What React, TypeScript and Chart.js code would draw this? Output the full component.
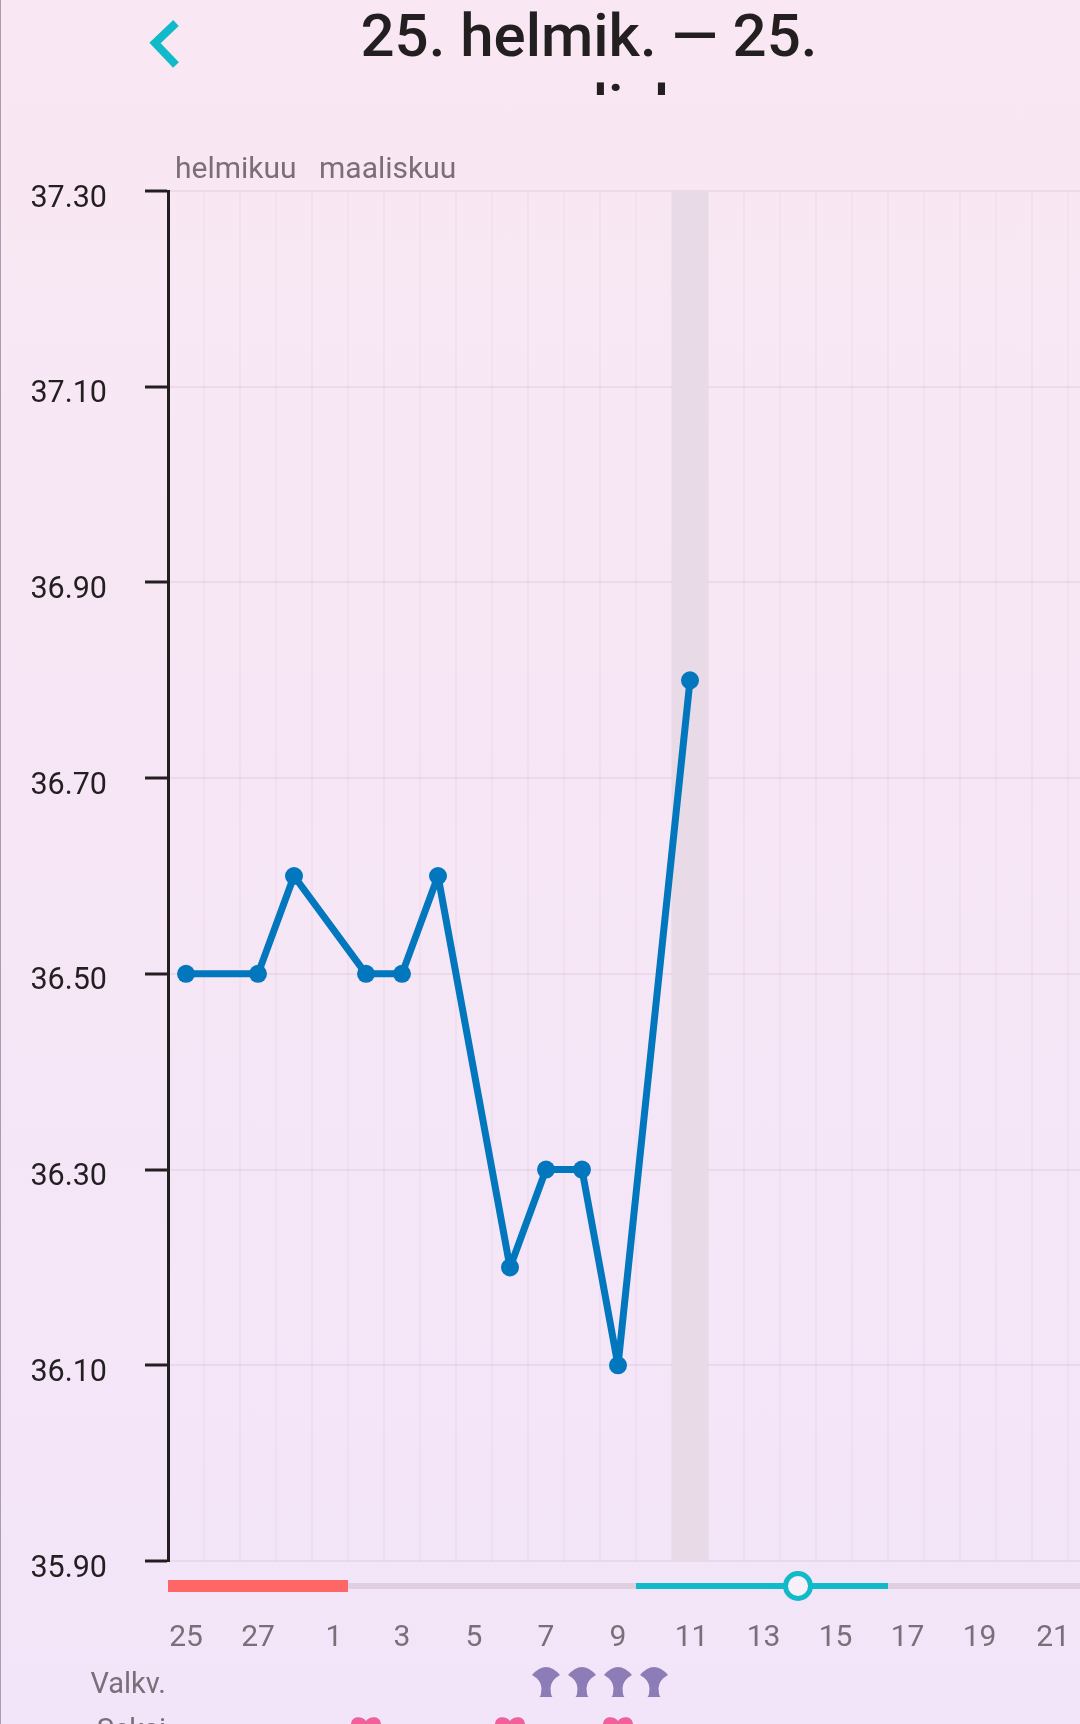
import React, { useEffect, useRef } from "react";
import { Chart, registerables } from "chart.js";

Chart.register(...registerables);

const days = ["25","26","27","28","1","2","3","4","5","6","7","8","9","10","11","12","13","14","15","16","17","18","19","20","21","22"];
const months = ["helmikuu","","","","maaliskuu","","","","","","","","","","","","","","","","","","","","",""];
const temperatures = [36.5,null,36.5,36.6,null,36.5,36.5,36.6,null,36.2,36.3,36.3,36.1,null,36.8,null,null,null,null,null,null,null,null,null,null,null];
const todayColumn = [null,null,null,null,null,null,null,null,null,null,null,null,null,null,[35.9,37.3],null,null,null,null,null,null,null,null,null,null,null];
const periodDays = ["25","26","27","28","1"];
const fertileDays = ["10","11","12","13","14","15","16"];
const ovulationDay = "14";
const valkvDays = ["7","8","9","10"];
const seksiDays = ["2","6","9"];

const FONT = "Roboto";
const TEXT = "#7b6e79";
const DARK = "#231f20";
const TEAL = "#10bac8";

const trackPlugin = {
  id: "cycleRows",
  afterUpdate(chart: any) {
    chart.scales.y.getLabelItems().forEach((item: any) => {
      item.options.translation[1] += 8;
    });
    chart.scales.x.getLabelItems().forEach((item: any) => {
      const n = Number(item.label);
      if (n === 1) item.options.translation[0] += 4;
      else if (n === 21) item.options.translation[0] += 3;
      else if (n >= 11 && n <= 19) item.options.translation[0] += 1.5;
    });
  },
  afterDraw(chart: any) {
    const { ctx, scales } = chart;
    const x = scales.x;
    const half = 18;
    const c = (d: string) => x.getPixelForValue(days.indexOf(d));
    ctx.save();
    // track
    ctx.fillStyle = "#dfcfe0";
    ctx.fillRect(168, 1583, 960, 6);
    ctx.fillStyle = "#ff6666";
    ctx.fillRect(c(periodDays[0]) - half, 1580, c(periodDays[periodDays.length - 1]) - c(periodDays[0]) + half * 2, 12);
    ctx.fillStyle = TEAL;
    ctx.fillRect(c(fertileDays[0]) - half, 1583, c(fertileDays[fertileDays.length - 1]) - c(fertileDays[0]) + half * 2, 6);
    ctx.beginPath();
    ctx.arc(c(ovulationDay), 1586, 12.5, 0, Math.PI * 2);
    ctx.fillStyle = "#f7f0fa";
    ctx.fill();
    ctx.lineWidth = 5;
    ctx.strokeStyle = TEAL;
    ctx.stroke();
    // rows
    ctx.font = `29px ${FONT}`;
    ctx.fillStyle = TEXT;
    ctx.textAlign = "right";
    ctx.textBaseline = "alphabetic";
    ctx.fillText("Valkv.", 166, 1693);
    ctx.fillText("Seksi", 166, 1739);
    ctx.fillStyle = "#8c7db6";
    valkvDays.forEach((d) => {
      const p = c(d);
      const t = 1667;
      ctx.beginPath();
      ctx.moveTo(p - 14, t + 8);
      ctx.quadraticCurveTo(p, t - 8, p + 14, t + 8);
      ctx.quadraticCurveTo(p + 5, t + 13, p + 4.5, t + 21);
      ctx.lineTo(p + 5, t + 27);
      ctx.quadraticCurveTo(p + 5.5, t + 29, p + 6.5, t + 30);
      ctx.lineTo(p - 6.5, t + 30);
      ctx.quadraticCurveTo(p - 5.5, t + 29, p - 5, t + 27);
      ctx.lineTo(p - 4.5, t + 21);
      ctx.quadraticCurveTo(p - 5, t + 13, p - 14, t + 8);
      ctx.closePath();
      ctx.fill();
    });
    ctx.fillStyle = "#f0619a";
    seksiDays.forEach((d) => {
      const p = c(d);
      const t = 1717;
      ctx.beginPath();
      ctx.moveTo(p, t + 4);
      ctx.bezierCurveTo(p - 3, t - 1, p - 15, t - 2, p - 15, t + 8);
      ctx.bezierCurveTo(p - 15, t + 16, p - 6, t + 22, p, t + 28);
      ctx.bezierCurveTo(p + 6, t + 22, p + 15, t + 16, p + 15, t + 8);
      ctx.bezierCurveTo(p + 15, t - 2, p + 3, t - 1, p, t + 4);
      ctx.closePath();
      ctx.fill();
    });
    ctx.restore();
  },
};

const noSidePadding = (s: any) => {
  s.paddingLeft = 0;
  s.paddingRight = 0;
};

export default function App() {
  const ref = useRef<HTMLCanvasElement>(null);
  useEffect(() => {
    const chart = new Chart(ref.current!, {
      type: "bar",
      data: {
        labels: days,
        datasets: [
          {
            type: "line",
            label: "Lämpötila",
            data: temperatures,
            borderColor: "#0277bd",
            backgroundColor: "#0277bd",
            borderWidth: 7,
            borderJoinStyle: "round",
            pointRadius: 9,
            pointHoverRadius: 9,
            pointBorderWidth: 0,
            spanGaps: true,
            tension: 0,
            order: 1,
            clip: false,
          },
          {
            type: "bar",
            label: "Tänään",
            data: todayColumn,
            backgroundColor: "#e8dae6",
            barPercentage: 1,
            categoryPercentage: 1,
            order: 2,
          },
        ] as any,
      },
      plugins: [trackPlugin],
      options: {
        responsive: false,
        animation: false,
        layout: { padding: 0, autoPadding: false },
        plugins: { legend: { display: false }, title: { display: false }, tooltip: { enabled: false } },
        scales: {
          y: {
            min: 35.9,
            max: 37.3,
            position: "left",
            afterFit: (s: any) => { s.width = 168; s.paddingTop = 0; s.paddingBottom = 0; },
            ticks: {
              stepSize: 0.2,
              padding: 38,
              color: DARK,
              font: { family: FONT, size: 30.5 },
              callback: (v: any) => Number(v).toFixed(2),
            },
            grid: {
              color: "rgba(130,70,110,0.08)",
              lineWidth: 2,
              tickColor: DARK,
              tickWidth: 3,
              tickLength: 23,
            },
            border: { display: true, color: DARK, width: 3 },
          },
          x: {
            position: "bottom",
            offset: true,
            afterFit: (s: any) => { s.height = 163; noSidePadding(s); },
            ticks: {
              autoSkip: false,
              maxRotation: 0,
              padding: 59,
              color: TEXT,
              font: { family: FONT, size: 30 },
              callback: (_v: any, i: number) => (i % 2 === 0 ? days[i] : ""),
            },
            grid: { color: "rgba(130,70,110,0.045)", lineWidth: 2, offset: true, drawTicks: false },
            border: { display: false },
          },
          x2: {
            type: "category",
            axis: "x",
            position: "top",
            offset: true,
            labels: months,
            afterFit: (s: any) => { s.height = 191; noSidePadding(s); },
            ticks: {
              autoSkip: false,
              maxRotation: 0,
              align: "start",
              labelOffset: -11,
              padding: 3,
              color: TEXT,
              font: { family: FONT, size: 30 },
            },
            grid: { display: false, drawTicks: false },
            border: { display: false },
          },
        } as any,
      },
    });
    return () => chart.destroy();
  }, []);

  return (
    <div
      style={{
        position: "fixed",
        left: 0,
        top: 0,
        width: 1080,
        height: 1724,
        overflow: "hidden",
        background: "linear-gradient(180deg, #f9e8f3 0%, #f3e5f9 100%)",
      }}
    >
      <canvas ref={ref} width={1104} height={1724} style={{ position: "absolute", left: 0, top: 0, display: "block" }} />
      <div style={{ position: "absolute", left: 0, top: 0, width: 1, height: 1724, background: "#a99bb0" }} />
      <svg width="60" height="80" style={{ position: "absolute", left: 140, top: 5 }}>
        <polyline points="36,18 15,38 36,60" fill="none" stroke={TEAL} strokeWidth="8" strokeLinecap="butt" strokeLinejoin="miter" />
      </svg>
      <div
        style={{
          position: "absolute",
          left: 289,
          top: 0,
          width: 600,
          height: 95,
          overflow: "hidden",
          textAlign: "center",
          fontFamily: FONT,
          fontWeight: 500,
          fontSize: 60,
          lineHeight: "71px",
          color: DARK,
        }}
      >
        25. helmik. — 25. maalisk.
      </div>
    </div>
  );
}
